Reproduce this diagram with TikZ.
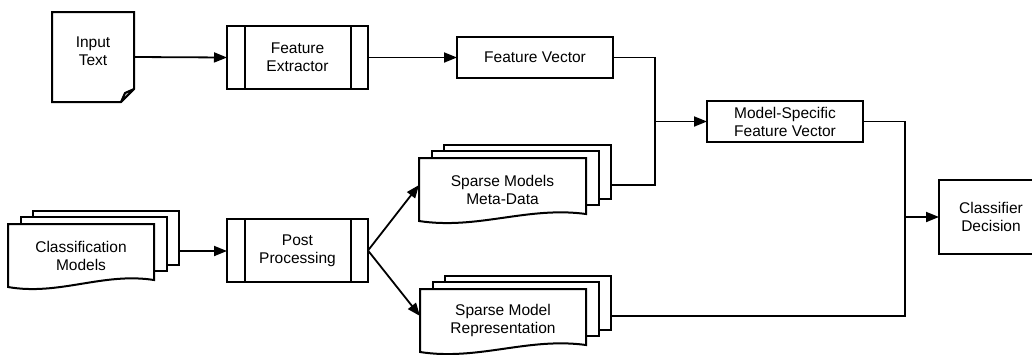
\documentclass[tikz,border=0pt]{standalone}
\usepackage{fontspec}
\setmainfont{Liberation Sans}
\usetikzlibrary{arrows.meta}
\newcommand\lblfont{\fontsize{15.5}{18}\selectfont}
\tikzset{
  box/.style={draw, line width=2pt, fill=white, outer sep=0pt, inner sep=0pt, align=center, font=\lblfont},
  txt/.style={outer sep=0pt, inner sep=0pt, align=center, font=\lblfont},
  sheet/.style={draw, line width=2pt, fill=white},
  edge/.style={line width=2pt},
  line/.style={line width=1.8pt},
  arr/.style={line width=1.8pt, -{Triangle[length=13pt,width=10pt]}},
}
\newcommand\docstack[5]{%
  \draw[sheet] (#2+25,#3-13.5) rectangle (#2+25+#4,#3+40.5);
  \draw[sheet] (#2+12.5,#3-6.75) rectangle (#2+12.5+#4,#3+47.25);
  \draw[sheet] (#2,#3) -- (#2+#4,#3) -- (#2+#4,#3+56)
     .. controls (#2+0.65*#4,#3+48) and (#2+0.35*#4,#3+72) .. (#2,#3+63) -- cycle;
  \node[txt, minimum width=#4pt, minimum height=63pt] (#1) at (#2+0.5*#4,#3+31.5) {#5};
  \coordinate (#1in) at (#2,#3+27);
  \coordinate (#1out) at (#2+25+#4,#3+27);
}
\begin{document}
\begin{tikzpicture}[x=1pt,y=-1pt]
\useasboundingbox (0,0) rectangle (1032,354);

% Input Text document
\node[txt, minimum width=82pt, minimum height=90pt] (input) at (93,57) {};
\draw[sheet] (input.north west) -- (input.north east) -- ([yshift=13pt]input.south east)
   -- ([xshift=-13pt]input.south east) -- (input.south west) -- cycle;
\draw[edge, fill=gray!50, line join=round] ([xshift=-13pt]input.south east) -- ([xshift=-9pt,yshift=9pt]input.south east)
   -- ([yshift=13pt]input.south east) -- cycle;
\node[txt] (inputlbl) at (93,51) {Input\\Text};

% Feature Extractor
\node[box, minimum width=141pt, minimum height=63pt] (fe) at (297.5,57.5) {Feature\\Extractor};
\draw[edge] ([xshift=18pt]fe.north west) -- ([xshift=18pt]fe.south west);
\draw[edge] ([xshift=-17pt]fe.north east) -- ([xshift=-17pt]fe.south east);

% Feature Vector
\node[box, minimum width=156pt, minimum height=41pt] (fv) at (535,57.5) {Feature Vector};

% Model-Specific Feature Vector
\node[box, minimum width=156pt, minimum height=41pt] (msfv) at (785,121.5) {Model-Specific\\Feature Vector};

% Classifier Decision (extends past the right edge)
\node[box, minimum width=108pt, minimum height=74pt] (cd) at (993,217) {\hspace*{-4pt}Classifier\\\hspace*{-4pt}Decision};

% Post Processing
\node[box, minimum width=141pt, minimum height=63pt] (pp) at (297.5,250.5) {Post\\Processing};
\draw[edge] ([xshift=18pt]pp.north west) -- ([xshift=18pt]pp.south west);
\draw[edge] ([xshift=-17pt]pp.north east) -- ([xshift=-17pt]pp.south east);

% Stacks
\docstack{cm}{8}{224}{146}{Classification\\Models}
\docstack{meta}{419}{158}{167}{Sparse Models\\Meta-Data}
\docstack{rep}{420}{289}{166}{Sparse Model\\Representation}

% Connectors
\draw[arr] (input.east) -- (fe.west);
\draw[arr] (fe.east) -- (fv.west);
\coordinate (j1) at (655,121.5);
\draw[line] (fv.east) -| (j1);
\draw[line] (metaout) -| (j1);
\draw[arr] (j1) -- (msfv.west);
\coordinate (j2) at (905,217);
\draw[line] (msfv.east) -| (j2);
\draw[line] (repout) -| (j2);
\draw[arr] (j2) -- (cd.west);
\draw[arr] (cmout) -- (cmout -| pp.west);
\draw[arr] (pp.east) -- (metain);
\draw[arr] (pp.east) -- (repin);
\end{tikzpicture}
\end{document}
